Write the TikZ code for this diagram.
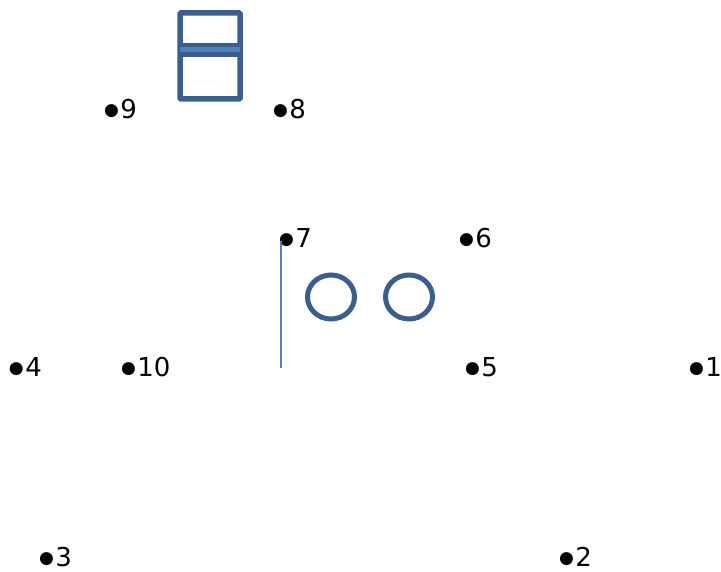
\documentclass[tikz,border=0pt]{standalone}
\usepackage{fontspec}
\setmainfont{DejaVu Sans}
\definecolor{darkblue}{HTML}{3A5F8F}
\definecolor{lightblue}{HTML}{4F81BD}
\newcommand{\mybul}{\raisebox{3pt}{\fontsize{17}{17}\selectfont ●}\kern1.5pt}
\begin{document}
\begin{tikzpicture}[x=1pt,y=-1pt,
  lbl/.style={anchor=base west,inner sep=0pt,outer sep=0pt,font=\fontsize{26}{30}\selectfont},
  shapeline/.style={draw=darkblue,line width=5pt}]
\useasboundingbox (0,0) rectangle (721,572);
% labels
\node[lbl] (n9) at (104,119) {\mybul 9};
\node[lbl] (n8) at (273,119) {\mybul 8};
\node[lbl] (n7) at (279,248) {\mybul 7};
\node[lbl] (n6) at (459,248) {\mybul 6};
\node[lbl] (n4) at (9,377) {\mybul 4};
\node[lbl] (n10) at (121,377) {\mybul 10};
\node[lbl] (n5) at (465,377) {\mybul 5};
\node[lbl] (n1) at (689,377) {\mybul 1};
\node[lbl] (n3) at (39,566) {\mybul 3};
\node[lbl] (n2) at (559,566) {\mybul 2};
% box
\draw[shapeline,line width=5.5pt,rounded corners=1pt] (180,13) rectangle (240,99);
\draw[draw=darkblue,line width=14pt] (180,50) -- (240,50);
\draw[draw=lightblue,line width=5pt] (180,50) -- (240,50);
% circles
\draw[shapeline] (331,297) ellipse [x radius=23.5, y radius=22];
\draw[shapeline] (409,297) ellipse [x radius=23.5, y radius=22];
% vertical line
\coordinate (vtop) at (281,241);
\coordinate (vbot) at (281,368);
\draw[lightblue,line width=1.6pt] (vtop) -- (vbot);
\end{tikzpicture}
\end{document}
